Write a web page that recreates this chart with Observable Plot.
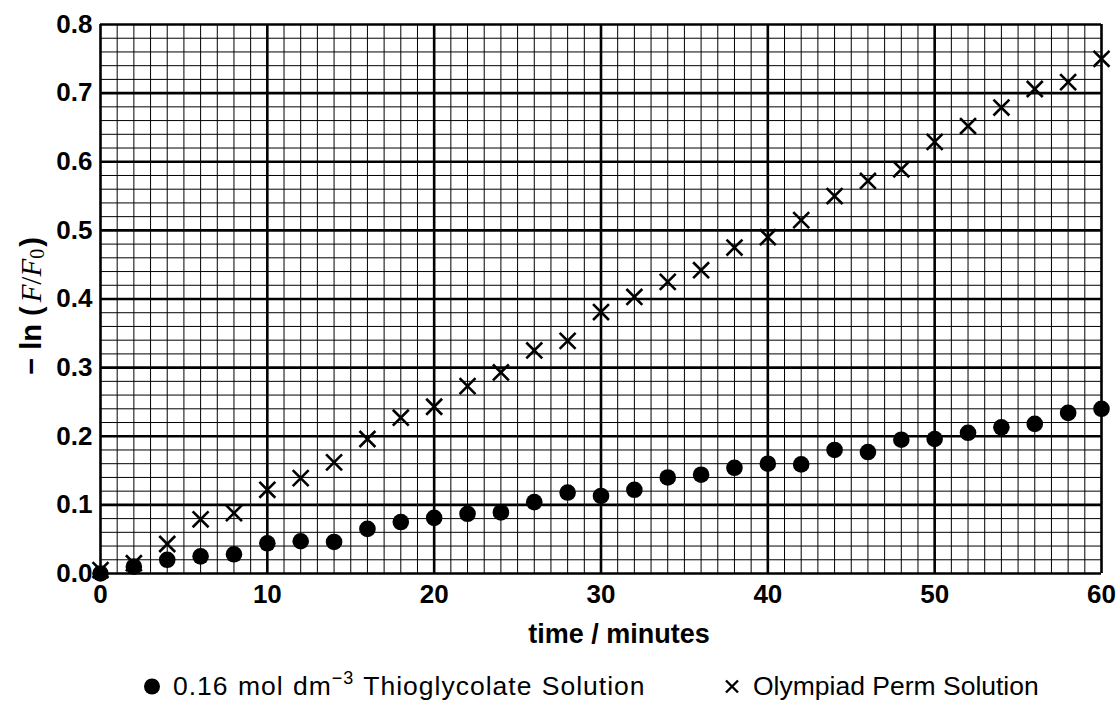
<!DOCTYPE html>
<html>
<head>
<meta charset="utf-8">
<script src="https://cdn.jsdelivr.net/npm/d3@7"></script>
<script src="https://cdn.jsdelivr.net/npm/@observablehq/plot@0.6"></script>
<style>
  html, body { margin: 0; padding: 0; background: #fff; }
  #wrap { position: relative; width: 1118px; height: 701px; font-family: "Liberation Sans", Arial, sans-serif; }
  #legend { position: absolute; left: 0; top: 650px; width: 1118px; height: 51px; font-size: 26.5px; color: #000; }
  #legend .item { position: absolute; top: 36px; transform: translateY(-50%); white-space: nowrap; display: flex; align-items: center; }
  #legend svg { margin-right: 12px; }
  sup { font-size: 18px; vertical-align: 11px; line-height: 0; }
</style>
</head>
<body>
<div id="wrap">
  <div id="chart"></div>
  <div id="legend">
    <div class="item" style="left:143px"><svg width="18" height="18"><circle cx="9" cy="9" r="8" fill="#000"/></svg><span style="letter-spacing:1px;word-spacing:1px">0.16 mol dm<sup>−3</sup> Thioglycolate Solution</span></div>
    <div class="item" style="left:723px"><svg width="18" height="16"><path d="M3,2L15,14M15,2L3,14" stroke="#000" stroke-width="2.4"/></svg><span>Olympiad Perm Solution</span></div>
  </div>
</div>
<script>
// time (minutes)
const times = [0, 2, 4, 6, 8, 10, 12, 14, 16, 18, 20, 22, 24, 26, 28, 30, 32, 34, 36, 38, 40, 42, 44, 46, 48, 50, 52, 54, 56, 58, 60];
// -ln(F/F0), 0.16 mol dm-3 Thioglycolate Solution
const thioglycolate = [0, 0.010, 0.020, 0.025, 0.028, 0.044, 0.047, 0.046, 0.065, 0.075, 0.081, 0.087, 0.089, 0.104, 0.118, 0.113, 0.122, 0.140, 0.144, 0.154, 0.160, 0.159, 0.180, 0.177, 0.195, 0.196, 0.205, 0.213, 0.218, 0.234, 0.240];
// -ln(F/F0), Olympiad Perm Solution
const olympiad = [0.005, 0.015, 0.043, 0.079, 0.088, 0.122, 0.139, 0.162, 0.196, 0.227, 0.243, 0.273, 0.293, 0.325, 0.339, 0.381, 0.403, 0.425, 0.442, 0.475, 0.490, 0.515, 0.550, 0.572, 0.589, 0.629, 0.652, 0.679, 0.706, 0.716, 0.750];
// tick labels
const xTicks = [0, 10, 20, 30, 40, 50, 60];
const yTicks = [0, 0.1, 0.2, 0.3, 0.4, 0.5, 0.6, 0.7, 0.8];
const xMinor = d3.range(0, 61, 1);
const yMinor = d3.range(0, 41, 1).map(i => i * 0.02);

const thioData = times.map((t, i) => ({t, v: thioglycolate[i]}));
const olyData = times.map((t, i) => ({t, v: olympiad[i]}));

const chart = Plot.plot({
  width: 1118,
  height: 650,
  marginLeft: 100,
  marginRight: 17,
  marginTop: 24,
  marginBottom: 77,
  style: {fontFamily: "'Liberation Sans', Arial, sans-serif", fontSize: "26px", fontWeight: "bold", color: "#000", background: "#fff", overflow: "visible"},
  x: {domain: [0, 60]},
  y: {domain: [0, 0.8]},
  marks: [
    Plot.ruleX(xMinor, {stroke: "#000", strokeWidth: 1, strokeOpacity: 1}),
    Plot.ruleY(yMinor, {stroke: "#000", strokeWidth: 1, strokeOpacity: 1}),
    Plot.ruleX(xTicks, {stroke: "#000", strokeWidth: 2.6}),
    Plot.ruleY(yTicks, {stroke: "#000", strokeWidth: 2.6}),
    Plot.dot(olyData, {x: "t", y: "v", symbol: "times", r: 7.3, stroke: "#000", strokeWidth: 2.6}),
    Plot.dot(thioData, {x: "t", y: "v", symbol: "circle", r: 8.3, fill: "#000", stroke: "none"}),
    Plot.axisX({ticks: xTicks, tickSize: 0, tickPadding: 11, label: null, fontSize: 26, fontWeight: "bold"}),
    Plot.axisY({ticks: yTicks, tickSize: 0, tickPadding: 8, tickFormat: d3.format(".1f"), label: null, fontSize: 26, fontWeight: "bold"}),
    Plot.text(["time / minutes"], {frameAnchor: "bottom", lineAnchor: "middle", dy: 61, dx: 18, fontSize: 27, fontWeight: "bold", fill: "#000"})
  ]
});
document.getElementById("chart").appendChild(chart);

// y-axis label with italic math symbols
const svg = d3.select(chart);
const serif = "'Liberation Serif', 'DejaVu Serif', serif";
const lab = svg.append("text")
  .attr("transform", "translate(31,306) rotate(-90)")
  .attr("text-anchor", "middle")
  .attr("dominant-baseline", "central")
  .attr("fill", "#000")
  .style("font-family", "'Liberation Sans', Arial, sans-serif")
  .style("font-size", "29px")
  .style("font-weight", "bold");
lab.append("tspan").text("− ln (");
lab.append("tspan").text("F").style("font-family", serif).style("font-style", "italic").style("font-weight", "normal").attr("dx", 4);
lab.append("tspan").text("/").style("font-family", serif).style("font-weight", "normal");
lab.append("tspan").text("F").style("font-family", serif).style("font-style", "italic").style("font-weight", "normal");
lab.append("tspan").text("0").style("font-family", serif).style("font-weight", "normal").style("font-size", "20px").attr("dy", 6);
lab.append("tspan").text(")").attr("dy", -6).attr("dx", 2);
</script>
</body>
</html>
